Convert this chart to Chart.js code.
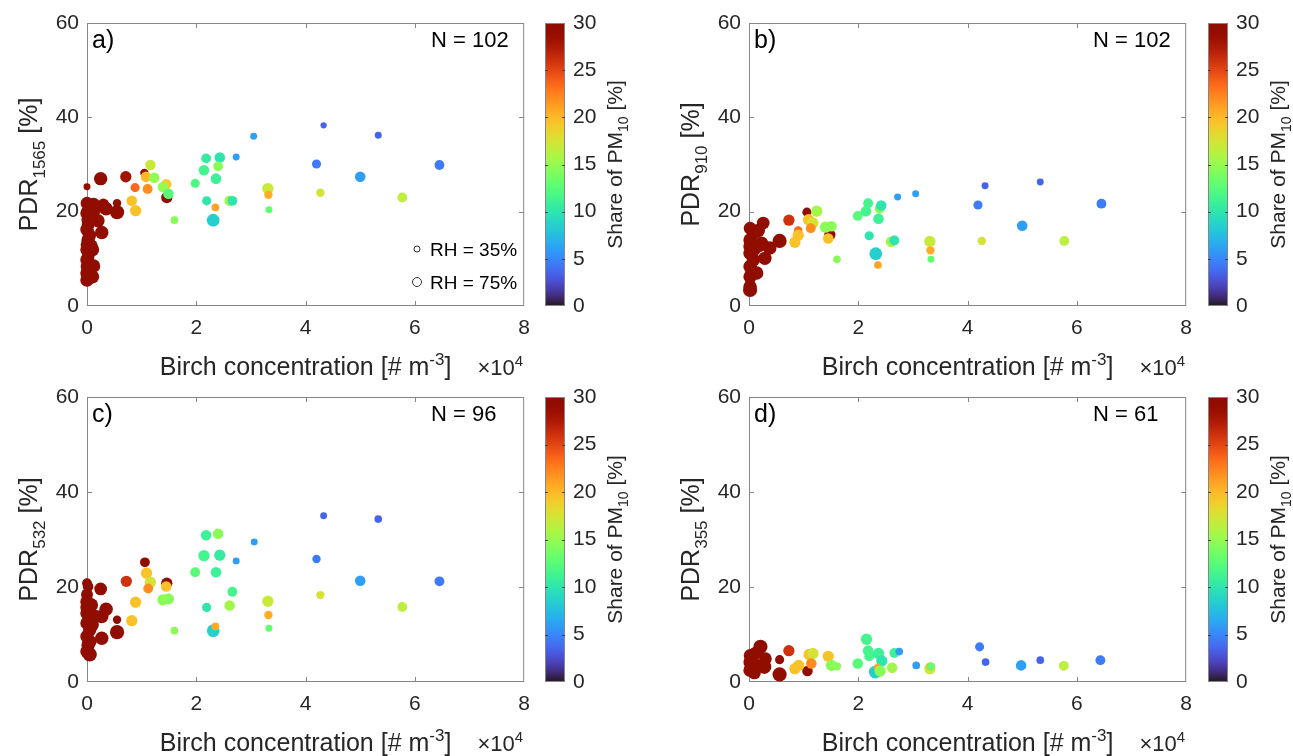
<!DOCTYPE html>
<html>
<head>
<meta charset="utf-8">
<script src="https://cdn.jsdelivr.net/npm/chart.js@4.4.1/dist/chart.umd.min.js"></script>
<style>
  body { margin: 0; background: #fff; width: 1293px; height: 756px; overflow: hidden; position: relative; }
  canvas { position: absolute; }
</style>
</head>
<body>
<canvas id="pa"></canvas><canvas id="ca"></canvas>
<canvas id="pb"></canvas><canvas id="cb"></canvas>
<canvas id="pc"></canvas><canvas id="cc"></canvas>
<canvas id="pd"></canvas><canvas id="cd"></canvas>
<script>
'use strict';

// Birch concentration [x 1e4 m^-3], PDR [%], share of PM10 [%], RH [%]
var birchA = [0.00,0.25,0.71,1.05,1.46,0.00,0.12,0.30,0.55,0.35,0.55,0.00,0.02,0.20,0.27,0.00,0.02,0.02,0.00,0.00,0.10,0.02,0.00,0.00,0.12,0.00,0.10,0.00,0.05,0.15,0.05,0.08,0.04,0.06,
  1.16,1.08,1.23,0.88,1.11,1.45,1.39,1.49,0.82,0.89,1.60,1.98,2.18,2.43,2.40,2.14,2.36,2.19,2.35,2.31,2.61,2.66,2.73,3.05,3.31,3.32,3.33,4.33,4.27,4.20,5.00,5.33,5.77,6.45];
var pdrA = [25.3,27.0,27.4,28.2,23.0,21.8,21.5,21.6,21.8,20.6,19.9,19.7,18.3,18.1,15.6,16.2,17.2,14.0,13.0,11.9,11.9,10.5,9.8,8.4,8.5,7.0,6.2,5.5,21.0,20.5,15.0,12.8,9.0,19.0,
  29.9,27.4,27.2,25.1,24.8,25.8,25.2,23.8,22.3,20.2,18.2,26.0,31.3,31.5,29.6,28.8,27.0,22.3,20.9,18.2,22.3,22.3,31.6,36.0,24.9,23.6,20.4,38.3,24.0,30.1,27.4,36.2,23.0,29.9];
var shareA = [30,30,28,30,30,30,30,30,30,30,30,30,30,30,30,30,30,30,30,30,30,30,30,30,30,30,30,30,30,30,30,30,30,30,
  17,20,15,23.5,22,19,15,12.5,19.5,19.5,14.5,12,10.5,10,14.5,11.5,11,10,21,8.5,15.5,10,6,6,17,20.5,13,3.5,17.5,4.5,6,3.5,16.5,4.5];
var rhA = [40,85,70,50,70,80,85,70,50,85,90,85,85,85,85,85,80,85,80,85,85,80,85,80,85,85,85,85,80,80,80,80,80,80,
  65,65,65,55,60,65,65,65,65,70,45,55,60,65,60,65,65,55,45,80,65,60,40,40,70,50,40,35,50,55,65,40,60,60];

var birchB = [0.02,0.02,0.02,0.14,0.02,0.08,0.29,0.02,0.02,0.38,0.23,0.02,0.08,0.02,0.17,0.26,0.56,0.04,0.10,0.05,0.20,1.06,1.48,
  0.73,1.24,1.09,1.17,0.90,1.13,0.90,0.84,1.40,1.51,1.45,1.61,1.99,2.14,2.18,2.39,2.42,2.37,2.20,2.32,2.36,2.60,2.66,2.72,3.05,3.31,3.32,3.33,4.19,4.32,4.26,5.00,5.33,5.77,6.45];
var pdrB = [3.4,4.1,6.2,7.0,8.4,9.8,10.1,11.2,12.6,12.3,13.3,14.0,15.5,16.5,16.0,17.6,13.8,13.0,12.0,7.5,12.8,19.9,15.1,
  18.2,20.1,18.3,17.6,16.0,16.5,15.0,13.5,16.7,16.9,14.3,9.9,19.1,20.1,21.8,20.6,21.3,18.5,14.9,11.1,8.7,13.6,13.9,23.1,23.8,13.7,11.8,9.9,21.4,25.5,13.8,17.0,26.3,13.8,21.7];
var shareB = [30,30,30,30,30,30,30,30,30,30,30,30,30,30,30,30,30,30,30,30,30,30,30,
  26,15.5,19.5,17.5,23.5,22,19.5,19.5,14.5,14.5,19.5,14.5,12.5,11.5,11.5,14.5,10,11,10,8.5,21,15.5,10,6,6,17,20.5,13,4.5,3.5,17.5,6,3.5,16.5,4.5];
var rhB = [90,85,85,85,85,85,85,85,85,85,85,85,85,80,85,80,90,85,80,80,80,55,70,
  70,70,70,70,50,60,70,70,70,65,65,45,60,65,60,60,65,65,55,80,45,65,60,40,40,70,50,40,55,40,50,65,40,60,60];

var birchC = [0.00,0.02,0.25,0.00,0.00,0.08,0.35,0.00,0.15,0.27,0.55,0.00,0.05,0.55,0.00,0.27,0.02,0.00,0.05,0.00,0.10,0.06,1.06,1.46,
  0.72,1.09,1.16,1.12,1.45,0.89,0.82,1.39,1.49,1.60,1.98,2.18,2.40,2.14,2.43,2.36,2.66,2.19,2.61,2.31,2.35,2.73,3.06,3.31,3.32,3.33,4.33,4.20,4.27,5.00,5.33,5.77,6.45];
var pdrC = [20.8,20.1,19.6,18.4,16.9,16.2,15.3,14.5,13.8,13.8,13.1,12.4,11.0,10.5,9.6,9.2,7.8,6.4,5.8,15.8,12.0,8.5,25.2,20.8,
  21.2,22.9,21.0,19.7,20.1,16.8,12.9,17.3,17.5,10.8,23.1,30.9,31.2,26.6,26.7,23.1,19.0,15.7,16.1,10.8,11.7,25.5,29.5,17.0,14.1,11.3,35.0,25.9,18.3,21.3,34.3,15.8,21.2];
var shareC = [30,30,30,30,30,30,30,30,30,30,30,30,30,30,30,30,30,30,30,30,30,30,30,30,
  26,19.5,17.5,22,19.5,19.5,19.5,14.5,14.5,14.5,12.5,11,14.5,11.5,10.5,11,11.5,10,15.5,8.5,20.5,6,6,17,20.5,13,3.5,4.5,17.5,6,3.5,16.5,4.5];
var rhC = [60,65,80,75,85,85,85,85,85,85,50,85,85,90,85,85,85,85,90,85,80,80,60,70,
  70,70,70,60,65,70,70,70,70,45,60,65,65,70,70,65,60,55,65,80,45,40,40,70,50,40,40,50,50,65,45,60,60];

var birchD = [0.02,0.02,0.02,0.10,0.12,0.21,0.30,0.28,0.13,0.06,0.56,0.56,1.07,
  0.73,0.84,0.91,1.10,1.17,1.14,1.45,1.51,1.61,1.99,2.15,2.18,2.20,2.37,2.43,2.31,2.35,2.40,2.62,2.66,2.75,3.06,3.31,3.32,3.33,4.22,4.33,4.98,5.33,5.76,6.43];
var pdrD = [5.6,4.2,2.5,1.9,6.1,7.4,4.9,3.2,3.5,4.9,4.7,1.6,2.3,
  6.6,2.8,3.5,5.8,6.0,3.9,5.4,3.5,3.3,3.9,9.0,6.6,5.4,6.0,4.4,2.1,3.0,2.3,3.0,6.1,6.4,3.5,2.8,3.3,3.3,7.4,4.2,3.5,4.6,3.4,4.6];
var shareD = [30,30,30,30,30,30,30,30,30,30,30,30,30,
  26,19.5,19.5,19.5,17.5,22,19.5,14.5,14.5,12.5,11.5,11.5,11.5,11,10,8.5,21,14.5,15.5,11,6,6,17,20.5,13,4.5,3.5,6,3.5,16.5,4.5];
var rhD = [80,85,85,80,80,90,80,90,85,80,55,90,65,
  70,70,70,70,70,65,70,70,50,65,70,65,60,70,70,80,45,70,65,60,45,45,70,50,45,55,45,65,45,60,60];

var xTicks = [0, 2, 4, 6, 8];
var yTicks = [0, 20, 40, 60];
var cbTicks = [0, 5, 10, 15, 20, 25, 30];
var rhLegend = [35, 75];

var FONT = '"Liberation Sans", Arial, sans-serif';
var TEXT = '#262626';
var EDGE = '#868686';

var panels = [
  { id: 'pa', cb: 'ca', letter: 'a)', n: 'N = 102', sub: '1565', x: birchA, y: pdrA, share: shareA, rh: rhA,
    left: 0, top: 0, h: 380, padRight: 12, cbLeft: 540, cbW: 122, legend: true },
  { id: 'pb', cb: 'cb', letter: 'b)', n: 'N = 102', sub: '910', x: birchB, y: pdrB, share: shareB, rh: rhB,
    left: 662, top: 0, h: 380, padRight: 10, cbLeft: 1202, cbW: 91 },
  { id: 'pc', cb: 'cc', letter: 'c)', n: 'N = 96', sub: '532', x: birchC, y: pdrC, share: shareC, rh: rhC,
    left: 0, top: 374, h: 382, padRight: 12, cbLeft: 540, cbW: 122 },
  { id: 'pd', cb: 'cd', letter: 'd)', n: 'N = 61', sub: '355', x: birchD, y: pdrD, share: shareD, rh: rhD,
    left: 662, top: 374, h: 382, padRight: 10, cbLeft: 1202, cbW: 91 }
];

Chart.defaults.font.family = FONT;
Chart.defaults.color = TEXT;

// MATLAB turbo colormap, polynomial fit.
function turbo(t) {
  t = Math.max(0, Math.min(1, t));
  var t2 = t * t, t3 = t2 * t, t4 = t3 * t, t5 = t4 * t;
  var r = 0.13572138 + 4.61539260 * t - 42.66032258 * t2 + 132.13108234 * t3 - 152.94239396 * t4 + 59.28637943 * t5;
  var g = 0.09140261 + 2.19418839 * t + 4.84296658 * t2 - 14.18503333 * t3 + 4.27729857 * t4 + 2.82956604 * t5;
  var b = 0.10667330 + 12.64194608 * t - 60.58204836 * t2 + 110.36276771 * t3 - 89.90310912 * t4 + 27.34824973 * t5;
  return 'rgb(' + [r, g, b].map(function(v) {
    return Math.round(255 * Math.max(0, Math.min(1, v)));
  }).join(',') + ')';
}

function rhRadius(rh) {
  return 0.6 + rh * 0.072;
}

// Draws text made of [string, 'sub'|'sup'|null] parts on one baseline.
function richText(ctx, x, y, parts, size, align) {
  var small = Math.round(size * 0.68);
  var widths = parts.map(function(p) {
    ctx.font = (p[1] ? small : size) + 'px ' + FONT;
    return ctx.measureText(p[0]).width;
  });
  var total = widths.reduce(function(a, b) { return a + b; }, 0);
  var cx = align === 'center' ? x - total / 2 : (align === 'right' ? x - total : x);
  ctx.textAlign = 'left';
  ctx.textBaseline = 'alphabetic';
  parts.forEach(function(p, i) {
    ctx.font = (p[1] ? small : size) + 'px ' + FONT;
    var dy = p[1] === 'sub' ? size * 0.3 : (p[1] === 'sup' ? -size * 0.42 : 0);
    ctx.fillText(p[0], cx, y + dy);
    cx += widths[i];
  });
}

function fixedTicks(values) {
  return function(scale) {
    scale.ticks = values.map(function(v) { return { value: v }; });
  };
}

function makeFrame(p) {
  return {
    id: 'frame',
    beforeDatasetsDraw: function(chart) {
      var ctx = chart.ctx, a = chart.chartArea;
      var sx = chart.scales.x, sy = chart.scales.y;
      ctx.save();
      ctx.strokeStyle = EDGE;
      ctx.lineWidth = 1;
      ctx.strokeRect(a.left + 0.5, a.top + 0.5, a.right - a.left - 1, a.bottom - a.top - 1);
      ctx.beginPath();
      xTicks.slice(1, -1).forEach(function(v) {
        var px = Math.round(sx.getPixelForValue(v)) + 0.5;
        ctx.moveTo(px, a.bottom); ctx.lineTo(px, a.bottom - 5);
        ctx.moveTo(px, a.top); ctx.lineTo(px, a.top + 5);
      });
      yTicks.slice(1, -1).forEach(function(v) {
        var py = Math.round(sy.getPixelForValue(v)) + 0.5;
        ctx.moveTo(a.left, py); ctx.lineTo(a.left + 5, py);
        ctx.moveTo(a.right, py); ctx.lineTo(a.right - 5, py);
      });
      ctx.stroke();
      ctx.restore();
    },
    afterDraw: function(chart) {
      var ctx = chart.ctx, a = chart.chartArea;
      ctx.save();
      ctx.fillStyle = '#000';
      ctx.font = '25px ' + FONT;
      ctx.textBaseline = 'alphabetic';
      ctx.textAlign = 'left';
      ctx.fillText(p.letter, a.left + 5, a.top + 25);
      ctx.font = '22px ' + FONT;
      ctx.fillText(p.n, a.left + 344, a.top + 24);

      ctx.fillStyle = TEXT;
      richText(ctx, (a.left + a.right) / 2, a.bottom + 69,
        [['Birch concentration [# m'], ['-3', 'sup'], [']']], 25, 'center');
      richText(ctx, a.right - 1, a.bottom + 69, [['\u00d710'], ['4', 'sup']], 22, 'right');

      ctx.translate(a.left - 50, (a.top + a.bottom) / 2);
      ctx.rotate(-Math.PI / 2);
      richText(ctx, 0, 0, [['PDR'], [p.sub, 'sub'], [' [%]']], 25, 'center');
      ctx.restore();

      if (p.legend) {
        ctx.save();
        ctx.strokeStyle = '#333';
        ctx.lineWidth = 1;
        ctx.fillStyle = '#000';
        ctx.font = '19px ' + FONT;
        rhLegend.forEach(function(rh, i) {
          var cy = a.top + 226 + i * 33;
          ctx.beginPath();
          ctx.arc(a.left + 330, cy, rh === 35 ? 3 : 4.5, 0, Math.PI * 2);
          ctx.stroke();
          ctx.fillText('RH = ' + rh + '%', a.left + 343, cy + 7);
        });
        ctx.restore();
      }
    }
  };
}

function cbFrame() {
  return {
    id: 'cbframe',
    afterDraw: function(chart) {
      var ctx = chart.ctx, a = chart.chartArea, sy = chart.scales.y;
      ctx.save();
      ctx.strokeStyle = EDGE;
      ctx.lineWidth = 1;
      ctx.strokeRect(a.left + 0.5, a.top + 0.5, a.right - a.left - 1, a.bottom - a.top - 1);
      ctx.strokeStyle = '#444';
      ctx.beginPath();
      cbTicks.slice(1, -1).forEach(function(v) {
        var py = Math.round(sy.getPixelForValue(v)) + 0.5;
        ctx.moveTo(a.left, py); ctx.lineTo(a.left + 3, py);
        ctx.moveTo(a.right, py); ctx.lineTo(a.right - 3, py);
      });
      ctx.stroke();
      ctx.fillStyle = TEXT;
      ctx.translate(a.right + 57, (a.top + a.bottom) / 2);
      ctx.rotate(-Math.PI / 2);
      richText(ctx, 0, 0, [['Share of PM'], ['10', 'sub'], [' [%]']], 21, 'center');
      ctx.restore();
    }
  };
}

function setupCanvas(id, left, top, w, h) {
  var c = document.getElementById(id);
  c.width = w; c.height = h;
  c.style.left = left + 'px'; c.style.top = top + 'px';
  c.style.width = w + 'px'; c.style.height = h + 'px';
  return c;
}

function drawPanel(p) {
  var canvas = setupCanvas(p.id, p.left, p.top, 540, p.h);
  var points = p.x.map(function(v, i) { return { x: v, y: p.y[i] }; });
  var tickFont = { size: 21, family: FONT };

  new Chart(canvas, {
    type: 'scatter',
    data: {
      datasets: [{
        data: points,
        pointBackgroundColor: p.share.map(function(s) { return turbo(s / 30); }),
        pointRadius: p.rh.map(rhRadius),
        pointBorderWidth: 0,
        clip: false
      }]
    },
    options: {
      responsive: false,
      animation: false,
      events: [],
      layout: { padding: { left: 0, right: p.padRight, top: 23, bottom: 0 } },
      plugins: { legend: { display: false }, tooltip: { enabled: false } },
      scales: {
        x: {
          type: 'linear', min: 0, max: 8,
          afterBuildTicks: fixedTicks(xTicks),
          afterFit: function(s) { s.height = 74; },
          grid: { display: false, drawTicks: false },
          border: { display: false },
          ticks: { padding: 10, color: TEXT, font: tickFont, maxRotation: 0 }
        },
        y: {
          type: 'linear', min: 0, max: 60,
          afterBuildTicks: fixedTicks(yTicks),
          afterFit: function(s) { s.width = 87; },
          grid: { display: false, drawTicks: false },
          border: { display: false },
          ticks: { padding: 8, color: TEXT, font: tickFont }
        }
      }
    },
    plugins: [makeFrame(p)]
  });

  var cbCanvas = setupCanvas(p.cb, p.cbLeft, p.top, p.cbW, p.h);
  var padLeft = p.left === 0 ? 5 : 6;
  new Chart(cbCanvas, {
    type: 'bar',
    data: {
      labels: [''],
      datasets: [{
        data: [[cbTicks[0], cbTicks[cbTicks.length - 1]]],
        barPercentage: 1,
        categoryPercentage: 1,
        borderWidth: 0,
        backgroundColor: function(c) {
          var a = c.chart.chartArea;
          if (!a) return '#888';
          var g = c.chart.ctx.createLinearGradient(0, a.bottom, 0, a.top);
          for (var i = 0; i <= 40; i++) g.addColorStop(i / 40, turbo(i / 40));
          return g;
        }
      }]
    },
    options: {
      responsive: false,
      animation: false,
      events: [],
      layout: { padding: { left: padLeft, right: 0, top: 23, bottom: 74 } },
      plugins: { legend: { display: false }, tooltip: { enabled: false } },
      scales: {
        x: { display: false },
        y: {
          position: 'right', min: 0, max: 30,
          afterBuildTicks: fixedTicks(cbTicks),
          afterFit: function(s) { s.width = p.cbW - padLeft - 20; },
          grid: { display: false, drawTicks: false },
          border: { display: false },
          ticks: { padding: 8, color: TEXT, font: tickFont }
        }
      }
    },
    plugins: [cbFrame()]
  });
}

panels.forEach(drawPanel);
</script>
</body>
</html>
